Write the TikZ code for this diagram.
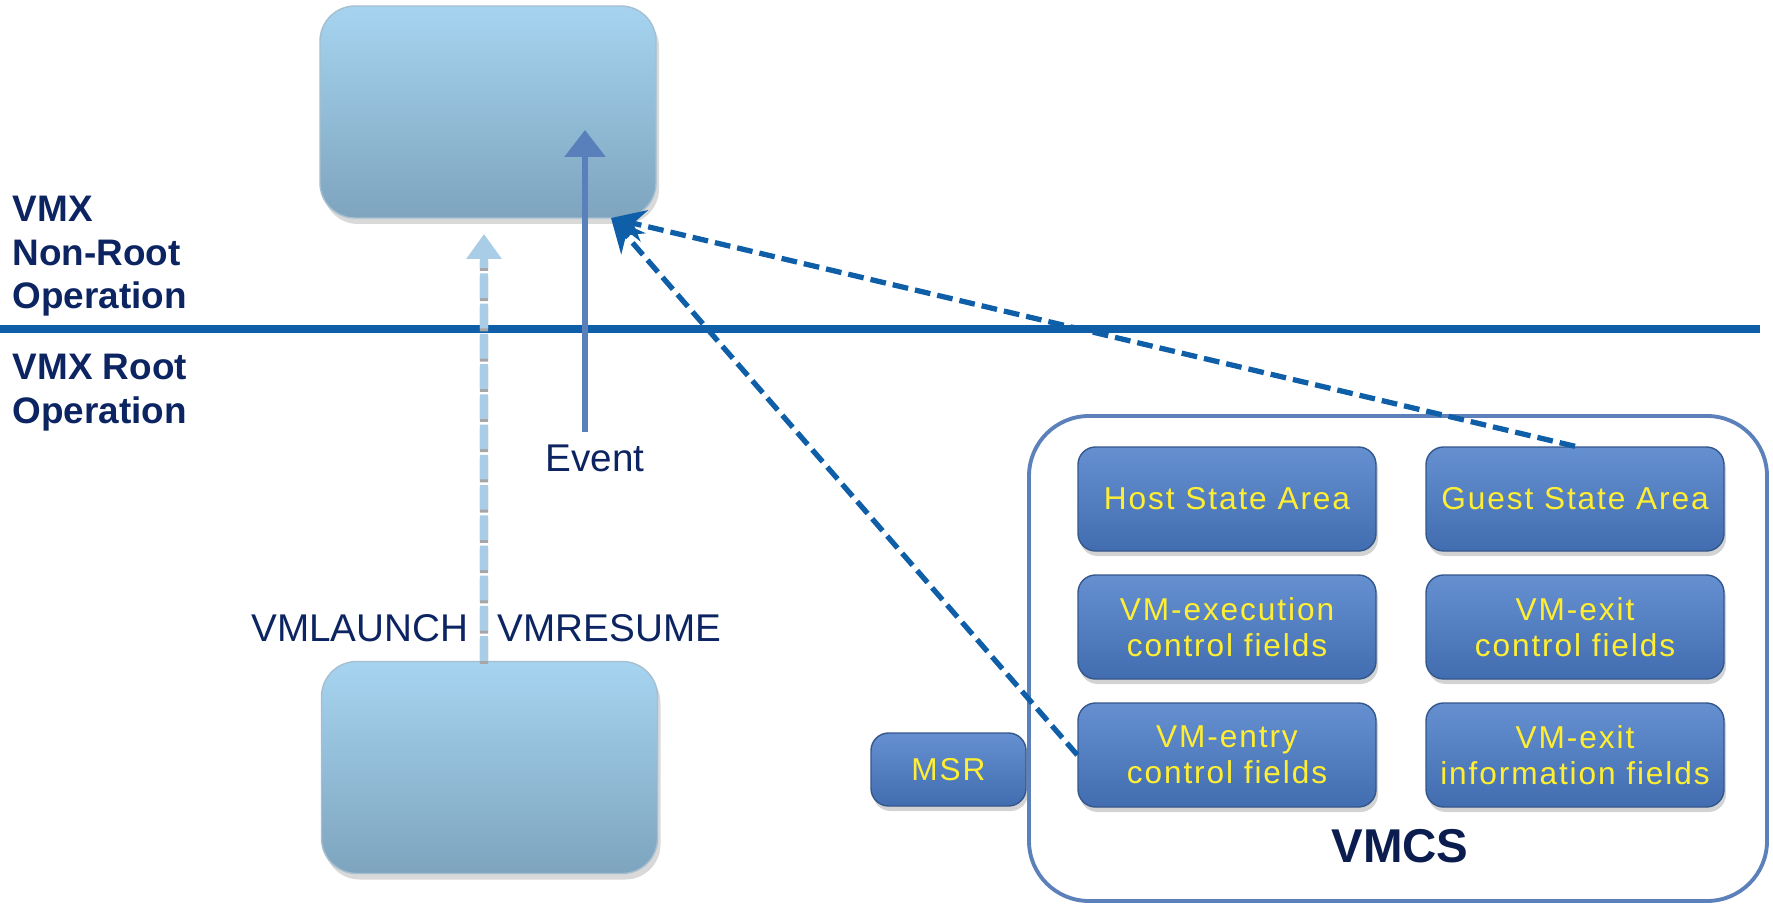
\documentclass[tikz,border=0pt]{standalone}
\usepackage{fontspec}
\setmainfont{Liberation Sans}
\usetikzlibrary{arrows.meta, positioning, calc, shadows}
\definecolor{vmxnavy}{RGB}{12, 36, 97}
\definecolor{vmxline}{RGB}{14, 94, 168}
\definecolor{cellblue}{RGB}{74, 124, 200}
\definecolor{cellyellow}{RGB}{255, 238, 50}
\definecolor{cpuhi}{RGB}{166, 212, 240}
\definecolor{cpulo}{RGB}{126, 164, 190}
\definecolor{eventblue}{RGB}{90, 128, 187}
\definecolor{launchblue}{RGB}{169, 205, 230}
\definecolor{vmcsframe}{RGB}{91, 128, 186}

\begin{document}
\begin{tikzpicture}[
  cpu/.style={rounded corners=10pt, top color=cpuhi, bottom color=cpulo, draw=cpulo!70,
    minimum width=3.36cm, minimum height=2.12cm,
    drop shadow={opacity=0.3, shadow xshift=0.03cm, shadow yshift=-0.06cm}},
  field/.style={rounded corners=5pt, top color=cellblue!85!white, bottom color=cellblue!88!black,
    draw=cellblue!70!black, minimum width=2.98cm, minimum height=1.04cm, text=cellyellow,
    font=\fontsize{9}{10.2}\selectfont\addfontfeature{LetterSpace=6}, align=center,
    drop shadow={opacity=0.35, shadow xshift=0.02cm, shadow yshift=-0.05cm}},
  mode/.style={font=\fontsize{10.5}{12.5}\selectfont\bfseries, text=vmxnavy, align=left, inner sep=0pt},
  instr/.style={font=\fontsize{11}{13}\selectfont, text=vmxnavy, inner sep=0pt},
  fetch/.style={vmxline, line width=1.5pt, dash pattern=on 4.5pt off 2pt, -{Stealth[length=3.4mm, width=3.2mm]}}
]
\useasboundingbox (0,0) rectangle (17.73,-9.04);

% guest and host
\node[cpu] (guest) at (4.88,-1.12) {};
\node[cpu] (host) at (4.895,-7.675) {};

% the boundary between the two modes
\coordinate (divl) at (0,-3.29);
\coordinate (divr) at (17.60,-3.29);
\draw[vmxline, line width=2pt] (divl) -- (divr);

\node[mode, anchor=north west] (nonroot) at (0.12,-1.95) {VMX\\Non-Root\\Operation};
\node[mode, anchor=north west] (root) at (0.12,-3.53) {VMX Root\\Operation};

% VMCS
\node[draw=vmcsframe, line width=1.1pt, rounded corners=0.6cm, minimum width=7.38cm, minimum height=4.85cm] (vmcs) at (13.98,-6.585) {};
\node[field] (hsa) at (12.27,-4.99) {Host State Area};
\node[field] (gsa) at (15.75,-4.99) {Guest State Area};
\node[field] (exec) at (12.27,-6.27) {VM-execution\\control fields};
\node[field] (exitctl) at (15.75,-6.27) {VM-exit\\control fields};
\node[field] (entry) at (12.27,-7.55) {VM-entry\\control fields};
\node[field] (exitinfo) at (15.75,-7.55) {VM-exit\\information fields};
\node[font=\fontsize{13.5}{15}\selectfont\bfseries, text=vmxnavy!80!black] (vmcslabel) at (14.0,-8.46) {VMCS};
\node[field, minimum width=1.55cm, minimum height=0.73cm] (msr) at (9.485,-7.695) {MSR};

% VMLAUNCH / VMRESUME
\coordinate (launchtip) at (4.84,-2.34);
\draw[gray!70, line width=2.3pt, dash pattern=on 7pt off 1.6pt] ($(host.north)+(-0.055,-0.03)$) -- ($(launchtip)+(0,-0.27)$);
\draw[launchblue, line width=2.3pt, dash pattern=on 7pt off 1.6pt, -{Triangle[length=2.5mm, width=3.4mm]}] ($(host.north)+(-0.055,0)$) -- (launchtip);
\node[instr, anchor=east] (vmlaunch) at (4.69,-6.28) {VMLAUNCH};
\node[instr, anchor=west] (vmresume) at (4.97,-6.28) {VMRESUME};

% exit on event
\node[instr] (event) at (5.95,-4.58) {Event};
\coordinate (eventtip) at (5.85,-1.30);
\draw[eventblue, line width=1.7pt, -{Triangle[length=2.7mm, width=4mm]}] ($(eventtip |- event.north)+(0,0.12)$) -- (eventtip);

% state loaded on entry
\coordinate (guestcorner) at (6.11,-2.18);
\draw[fetch] (gsa.north) -- (guestcorner);
\draw[fetch] (entry.west) -- (guestcorner);
\end{tikzpicture}
\end{document}
